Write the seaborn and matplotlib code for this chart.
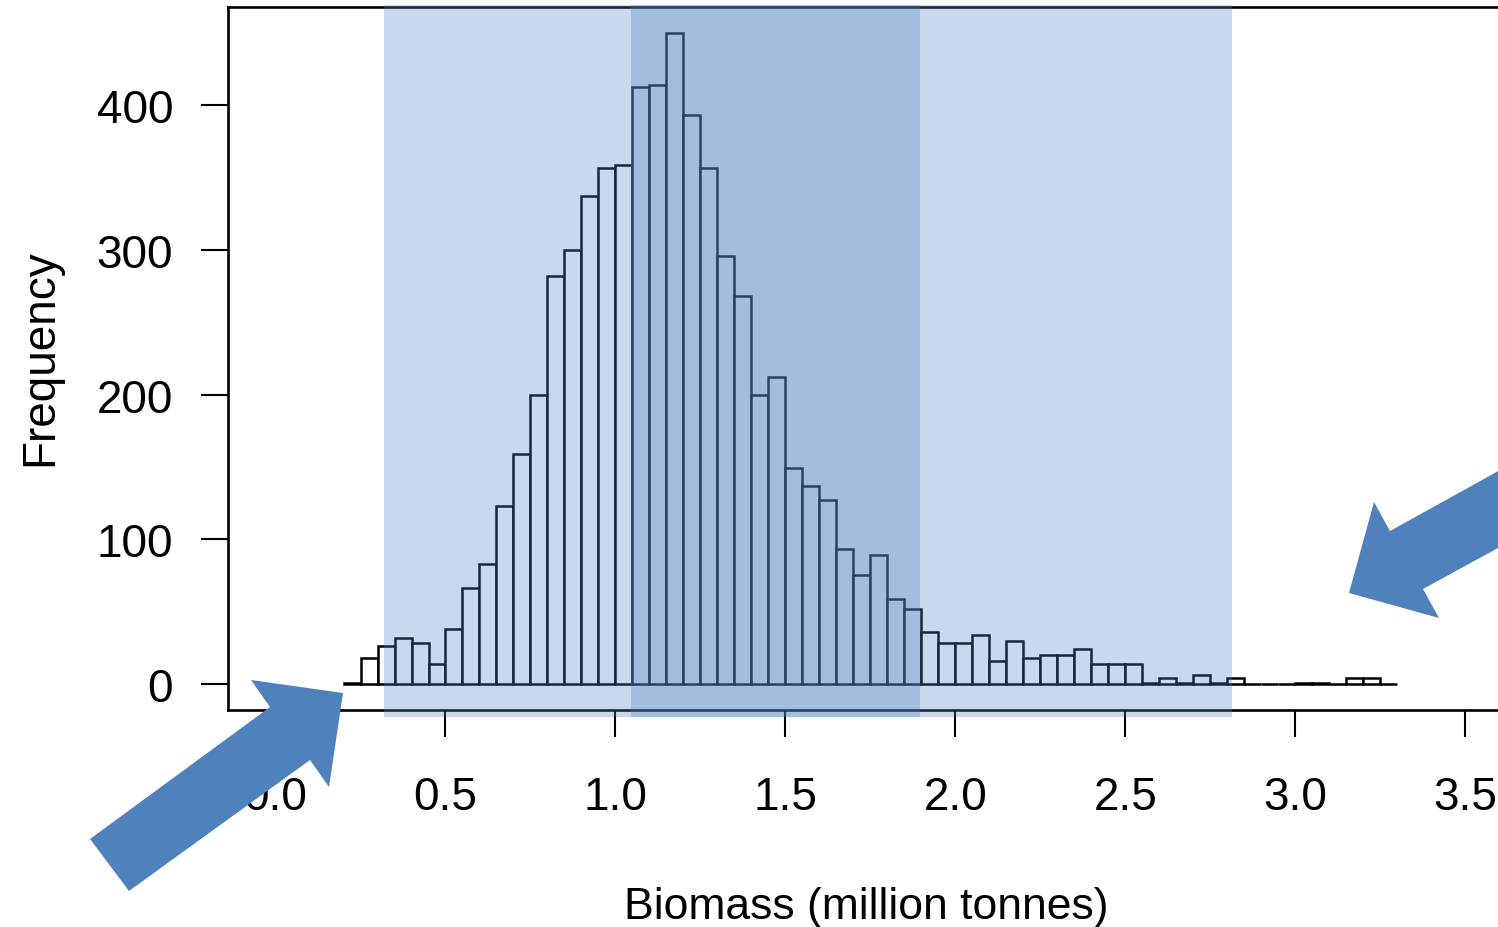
import numpy as np
import pandas as pd
import matplotlib
matplotlib.use("Agg")
import matplotlib.pyplot as plt
from matplotlib.patches import Rectangle, Polygon
import seaborn as sns

# ---- data -------------------------------------------------------------
bin_start = 0.20
bin_width = 0.05
counts = [1, 18, 26, 32, 28, 14, 38, 66, 83, 123,
          159, 200, 282, 300, 337, 357, 359, 413, 414, 450,
          393, 357, 296, 268, 200, 212, 149, 137, 127, 93,
          75, 89, 59, 52, 36, 28, 28, 34, 16, 30,
          18, 20, 20, 24, 14, 14, 14, 1, 4, 1,
          6, 1, 4, 0, 0, 0, 1, 1, 0, 4,
          4, 0]
x_ticks = [0.0, 0.5, 1.0, 1.5, 2.0, 2.5, 3.0, 3.5]
x_tick_labels = ["0.0", "0.5", "1.0", "1.5", "2.0", "2.5", "3.0", "3.5"]
y_ticks = [0, 100, 200, 300, 400]
outer_interval = (0.318, 2.815)
inner_interval = (1.047, 1.897)
x_label = "Biomass (million tonnes)"
y_label = "Frequency"

bin_edges = [round(bin_start + bin_width * i, 3) for i in range(len(counts) + 1)]
bin_mids = [(bin_edges[i] + bin_edges[i + 1]) / 2 for i in range(len(counts))]
df = pd.DataFrame({"biomass": bin_mids, "count": counts})

# ---- style ------------------------------------------------------------
sns.set_style("ticks")
plt.rcParams["font.family"] = ["Liberation Sans", "DejaVu Sans"]
FS = 33
W, H = 1498, 928
fig = plt.figure(figsize=(W / 100, H / 100), dpi=100)
fig.patch.set_facecolor("white")

ax_left, ax_right, ax_top, ax_bottom = 228, 1512.6, 8, 711
ax = fig.add_axes([ax_left / W, 1 - ax_bottom / H,
                   (ax_right - ax_left) / W, (ax_bottom - ax_top) / H])
ax.set_facecolor("white")

sns.histplot(data=df, x="biomass", weights="count", bins=bin_edges,
             stat="count", color="white", edgecolor="black",
             linewidth=1.8, alpha=1, ax=ax)

ax.set_xlim(-0.14, 3.64)
ax.set_ylim(-18, 468)
ax.set_xticks(x_ticks)
ax.set_xticklabels(x_tick_labels)
ax.set_yticks(y_ticks)
ax.tick_params(axis="both", direction="out", length=19.5, width=1.5,
               labelsize=FS, colors="black")
ax.tick_params(axis="x", pad=27)
ax.tick_params(axis="y", pad=20)
for s in ax.spines.values():
    s.set_visible(True)
    s.set_linewidth(1.9)
    s.set_color("black")

ax.set_xlabel(x_label, fontsize=32, color="black")
ax.set_ylabel(y_label, fontsize=FS, color="black")
ax.xaxis.set_label_coords(866 / W, 1 - 919 / H, transform=fig.transFigure)
ax.xaxis.label.set_va("baseline")
ax.yaxis.set_label_coords(40 / W, 1 - 358 / H, transform=fig.transFigure)
ax.yaxis.label.set_va("center")
ax.yaxis.label.set_ha("center")

# ---- translucent highlight bands (overlay) ----------------------------
shade = "#4F81BD"
y0 = -0.0100
y1 = 1.0028
for lo, hi in (outer_interval, inner_interval):
    ax.add_patch(Rectangle((lo, y0), hi - lo, y1 - y0,
                           transform=ax.get_xaxis_transform(),
                           facecolor=shade, alpha=0.30, linewidth=0,
                           clip_on=False, zorder=5))

# ---- block arrows ----------------------------------------------------
def fig_pts(pts):
    return [(x / W, 1 - y / H) for x, y in pts]

left_arrow = [(90, 840), (270, 708), (251, 681), (343, 694),
              (329, 788), (310, 761), (129, 892)]
right_arrow = [(1520, 460), (1390, 532), (1374, 503), (1349, 594),
               (1439, 619), (1423, 590), (1520, 537)]
for pts in (left_arrow, right_arrow):
    fig.add_artist(Polygon(fig_pts(pts), closed=True, facecolor=shade,
                           edgecolor="none", transform=fig.transFigure,
                           zorder=10))

fig.savefig("out.png", dpi=100, facecolor="white")
